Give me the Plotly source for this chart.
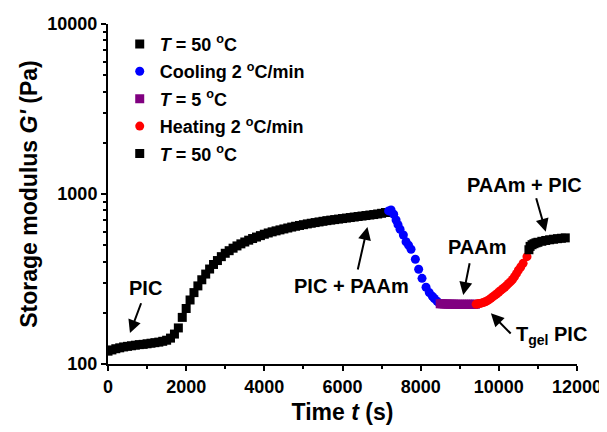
import plotly.graph_objects as go

# ---------------- data ----------------
t_iso1 = [0, 100, 200, 300, 400, 500, 600, 700, 800, 900, 1000, 1100, 1200, 1300, 1400, 1500,
          1600, 1700, 1800, 1900, 2000, 2100, 2200, 2300, 2400, 2500, 2600, 2700, 2800, 2900,
          3000, 3100, 3200, 3300, 3400, 3500, 3600, 3700, 3800, 3900, 4000, 4100, 4200, 4300,
          4400, 4500, 4600, 4700, 4800, 4900, 5000, 5100, 5200, 5300, 5400, 5500, 5600, 5700,
          5800, 5900, 6000, 6100, 6200, 6300, 6400, 6500, 6600, 6700, 6800, 6900, 7000, 7100]
g_iso1 = [119, 121, 123, 124.5, 126, 127, 128, 129, 130, 130.5, 131.5, 132.5, 133.5, 134.5, 136, 138,
          142, 150, 163, 188, 212, 238, 263, 288, 313, 338, 362, 385, 406, 428,
          448, 464, 480, 495, 509, 522, 535, 547, 558, 569, 580, 590, 599, 607,
          615, 623, 631, 639, 646, 653, 660, 667, 673, 679, 685, 691, 697, 702,
          707, 712, 717, 722, 727, 732, 737, 742, 747, 752, 757, 763, 770, 778]

t_cool = [7180, 7243, 7310, 7371, 7420, 7473, 7557, 7626, 7690, 7754, 7864, 7949, 8035, 8137,
          8221, 8300, 8349, 8420, 8477]
g_cool = [795, 805, 760, 703, 660, 620, 574, 524, 500, 473, 413, 361, 319, 283,
          263, 250, 243, 234, 228]

t_cold = [8500, 8550, 8600, 8650, 8700, 8750, 8800, 8850, 8900, 8950, 9000, 9050, 9100, 9150,
          9200, 9250, 9300, 9350, 9400]
g_cold = [226, 226, 225.5, 225.5, 225, 225, 225, 225, 224.5, 224.5, 224.5, 224.5, 224.5, 224.5,
          224.5, 224.5, 224.5, 224.5, 224.5]

t_heat = [9420, 9460, 9500, 9550, 9600, 9650, 9700, 9750, 9800, 9850, 9900, 9950, 10000, 10050,
          10100, 10150, 10200, 10250, 10300, 10350, 10400, 10450, 10500, 10560, 10621, 10720]
g_heat = [225, 226, 227, 228, 230, 232, 235, 239, 244, 249, 254, 259, 265, 271,
          277, 283, 290, 298, 305, 314, 326, 340, 356, 372, 391, 428]

t_iso2 = [10770, 10800, 10850, 10900, 10950, 11000, 11100, 11200, 11300, 11400, 11500, 11600, 11700]
g_iso2 = [470, 492, 503, 510, 516, 520, 527, 533, 538, 542, 546, 549, 552]

legend_names = ["<i>T</i> = 50 <sup>o</sup>C", "Cooling 2 <sup>o</sup>C/min",
                "<i>T</i> = 5 <sup>o</sup>C", "Heating 2 <sup>o</sup>C/min",
                "<i>T</i> = 50 <sup>o</sup>C"]

x_major = [0, 2000, 4000, 6000, 8000, 10000, 12000]
x_major_text = ["0", "2000", "4000", "6000", "8000", "10000", "12000"]
y_major = [100, 1000, 10000]
y_major_text = ["100", "1000", "10000"]

FONT = "Arial, Liberation Sans, sans-serif"

fig = go.Figure()
series = [
    (t_iso1, g_iso1, "square", "black", 9),
    (t_cool, g_cool, "circle", "#0000ff", 9),
    (t_cold, g_cold, "square", "#800080", 9),
    (t_heat, g_heat, "circle", "#ff0000", 9),
    (t_iso2, g_iso2, "square", "black", 9),
]
for i, (tx, gy, sym, col, sz) in enumerate(series):
    fig.add_trace(go.Scatter(x=tx, y=gy, mode="markers", name=legend_names[i],
                             legendgroup=f"g{i}",
                             marker=dict(symbol=sym, color=col, size=sz, line=dict(width=0))))

# arrows: (head t, head log10 G, ax px, ay px)
arrows = [
    (562, 2.182, 11.7, -31.3),
    (6638, 2.806, -10, 44),
    (9089, 2.406, 6.7, -33.3),
    (9796, 2.298, 21.3, 21.7),
    (11201, 2.778, -10, -35),
]
labels = [
    (970, 2.447, "PIC"),
    (6230, 2.459, "PIC + PAAm"),
    (9447, 2.688, "PAAm"),
    (11336, 2.165, "T<sub>gel</sub> PIC"),
    (10647, 3.053, "PAAm + PIC"),
]
ann = []
for hx, hy, ax, ay in arrows:
    ann.append(dict(x=hx, y=hy, xref="x", yref="y", ax=ax, ay=ay, axref="pixel", ayref="pixel",
                    text="", showarrow=True, arrowhead=2, arrowsize=1.3, arrowwidth=2,
                    arrowcolor="black", standoff=0))
for lx, ly, txt in labels:
    ann.append(dict(x=lx, y=ly, xref="x", yref="y", text=txt, showarrow=False,
                    font=dict(family=FONT, size=20, color="black", weight="bold")))

fig.update_layout(
    width=599, height=424,
    margin=dict(l=100, r=30, t=16, b=68),
    paper_bgcolor="white", plot_bgcolor="white",
    font=dict(family=FONT, size=18, color="black", weight="bold"),
    showlegend=True,
    legend=dict(x=0.025, y=0.995, xanchor="left", yanchor="top", bgcolor="rgba(0,0,0,0)",
                font=dict(family=FONT, size=18, color="black", weight="bold"),
                traceorder="grouped", tracegroupgap=1, itemsizing="trace"),
    annotations=ann,
)
fig.update_xaxes(range=[0, 12000], showgrid=False, zeroline=False, automargin=False,
                 showline=True, linecolor="black", linewidth=2, mirror=False,
                 ticks="outside", ticklen=5, tickwidth=2, tickcolor="black",
                 tickmode="array", tickvals=x_major, ticktext=x_major_text,
                 ticklabeloverflow="allow",
                 tickfont=dict(family=FONT, size=18, color="black", weight="bold"),
                 minor=dict(dtick=1000, tick0=0,
                            ticks="outside", ticklen=3, tickwidth=2, tickcolor="black"),
                 title=dict(text="Time <i>t</i> (s)", standoff=8,
                            font=dict(family=FONT, size=23, color="black", weight="bold")))
fig.update_yaxes(type="log", range=[2, 4], showgrid=False, zeroline=False, automargin=False,
                 showline=True, linecolor="black", linewidth=2, mirror=False,
                 ticks="outside", ticklen=5, tickwidth=2, tickcolor="black",
                 tickmode="array", tickvals=y_major, ticktext=y_major_text,
                 ticklabeloverflow="allow",
                 tickfont=dict(family=FONT, size=18, color="black", weight="bold"),
                 minor=dict(dtick="D1",
                            ticks="outside", ticklen=3, tickwidth=2, tickcolor="black"),
                 title=dict(text="Storage modulus <i>G'</i> (Pa)", standoff=3,
                            font=dict(family=FONT, size=23, color="black", weight="bold")))

fig.write_html("out.html")
